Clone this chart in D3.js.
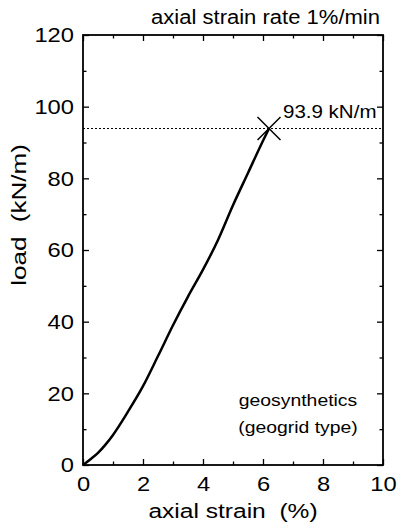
<!DOCTYPE html>
<html>
<head>
<meta charset="utf-8">
<script src="https://cdn.jsdelivr.net/npm/d3@7"></script>
<style>
  body { margin: 0; background: #fff; }
  text { font-family: "Liberation Sans", Arial, sans-serif; fill: #000; }
</style>
</head>
<body>
<div id="chart"></div>
<script>
// load-strain curve
var strain = [0, 0.25, 0.5, 0.75, 1.0, 1.5, 2.0, 2.5, 3.0, 3.5, 4.0, 4.5, 5.0, 5.5, 6.0, 6.2];
var load   = [0, 1.6, 3.4, 5.7, 8.4, 14.9, 22.0, 30.4, 39.0, 47.0, 54.5, 62.8, 72.5, 81.5, 90.5, 93.9];

var xMajor = [0, 2, 4, 6, 8, 10];
var xMinor = [1, 3, 5, 7, 9];
var yMajor = [0, 20, 40, 60, 80, 100, 120];
var yMinor = [10, 30, 50, 70, 90, 110];

var peakStrain = 6.2, peakLoad = 93.9;
var peakLabel = "93.9 kN/m";
var title = "axial strain rate 1%/min";
var note = ["geosynthetics", "(geogrid type)"];

var W = 401, H = 527;
var margin = {left: 83, right: 383, top: 35, bottom: 465};

var svg = d3.select("#chart").append("svg")
    .attr("width", W)
    .attr("height", H);

var x = d3.scaleLinear().domain([0, 10]).range([margin.left, margin.right]);
var y = d3.scaleLinear().domain([0, 120]).range([margin.bottom, margin.top]);

// the original lettering is a bit wider than Arial, so stretch it along the text
function label(txt, tx, ty, size, sx, anchor, rot) {
  var g = svg.append("g")
      .attr("transform", "translate(" + tx + "," + ty + ")" + (rot ? " rotate(" + rot + ")" : "") +
                         " scale(" + sx + ",1)");
  g.append("text")
      .attr("text-anchor", anchor || "start")
      .attr("font-size", size)
      .style("white-space", "pre")
      .text(txt);
  return g;
}

function ax(gen, tx, ty, vals, size, pad, labels) {
  var g = svg.append("g")
      .attr("transform", "translate(" + tx + "," + ty + ")")
      .call(gen.tickValues(vals).tickSize(size).tickPadding(pad)
              .tickFormat(labels ? d3.format("d") : ""));
  g.select(".domain").remove();
  g.selectAll("line").attr("stroke", "#000").attr("stroke-width", 1.3);
  g.selectAll("text").attr("font-size", 21).attr("fill", "#000")
    .attr("font-family", "Liberation Sans, Arial, sans-serif")
    .attr("transform", "scale(1.13,1)");
  return g;
}

// inward ticks on all four sides
ax(d3.axisBottom(x), 0, margin.bottom, xMajor, -6, 11, true);
ax(d3.axisBottom(x), 0, margin.bottom, xMinor, -3.5, 0, false);
ax(d3.axisTop(x), 0, margin.top, xMajor, -6, 0, false);
ax(d3.axisTop(x), 0, margin.top, xMinor, -3.5, 0, false);
ax(d3.axisLeft(y), margin.left, 0, yMajor, -6, 8, true);
ax(d3.axisLeft(y), margin.left, 0, yMinor, -3.5, 0, false);
ax(d3.axisRight(y), margin.right, 0, yMajor, -6, 0, false);
ax(d3.axisRight(y), margin.right, 0, yMinor, -3.5, 0, false);

svg.append("rect")
    .attr("x", margin.left).attr("y", margin.top)
    .attr("width", margin.right - margin.left).attr("height", margin.bottom - margin.top)
    .attr("fill", "none").attr("stroke", "#000").attr("stroke-width", 1.8);

// dotted line at peak load
svg.append("line")
    .attr("x1", margin.left).attr("x2", margin.right)
    .attr("y1", y(peakLoad)).attr("y2", y(peakLoad))
    .attr("stroke", "#000").attr("stroke-width", 1)
    .attr("stroke-dasharray", "2,2");

var line = d3.line()
    .x(function(d, i) { return x(strain[i]); })
    .y(function(d) { return y(d); })
    .curve(d3.curveMonotoneX);

svg.append("path")
    .datum(load)
    .attr("d", line)
    .attr("fill", "none")
    .attr("stroke", "#000")
    .attr("stroke-width", 2.5);

// peak marker
var px = x(peakStrain), py = y(peakLoad), s = 11.5;
svg.append("path")
    .attr("d", "M" + (px - s) + "," + (py - s) + "L" + (px + s) + "," + (py + s) +
               "M" + (px - s) + "," + (py + s) + "L" + (px + s) + "," + (py - s))
    .attr("stroke", "#000").attr("stroke-width", 1.5);

label(peakLabel, px + 14, py - 11, 19, 1.08, "start");
label(title, margin.right - 3, 24, 19.5, 1.13, "end");

note.forEach(function(d, i) {
  label(d, 298, 406 + i * 27, 17, 1.14, "middle");
});

label("axial strain  (%)", (margin.left + margin.right) / 2, 518, 21, 1.17, "middle");
label("load  (kN/m)", 26, 215, 21, 1.24, "middle", -90);
</script>
</body>
</html>
